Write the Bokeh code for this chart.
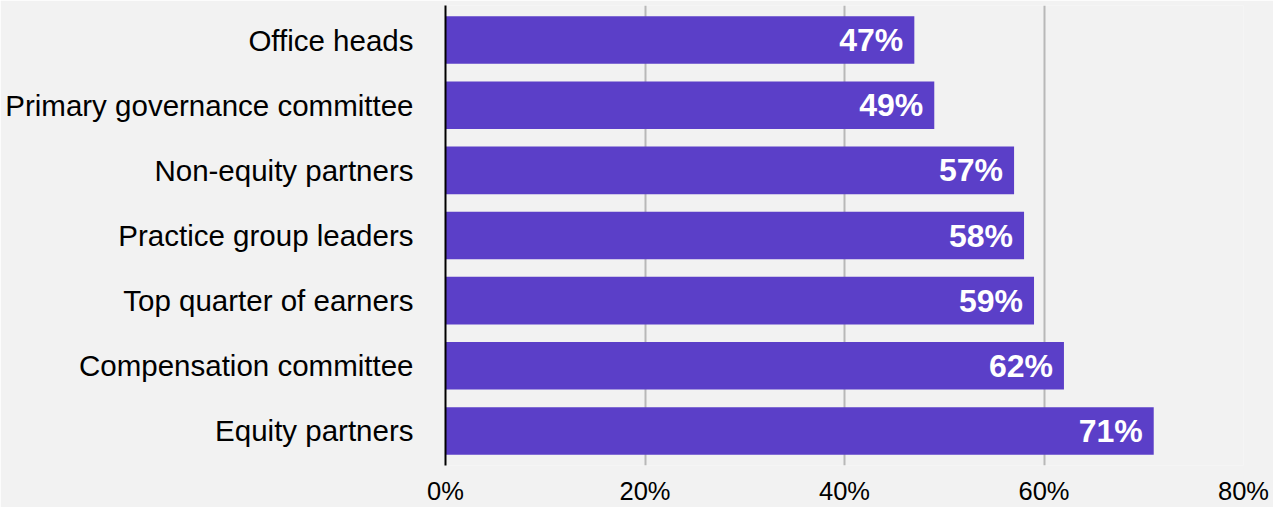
from bokeh.plotting import figure
from bokeh.models import ColumnDataSource, FactorRange, FixedTicker, PrintfTickFormatter
from bokeh.core.properties import value
from bokeh.embed import file_html
from bokeh.resources import INLINE

categories = ["Office heads", "Primary governance committee", "Non-equity partners",
              "Practice group leaders", "Top quarter of earners", "Compensation committee",
              "Equity partners"]
values = [47, 49, 57, 58, 59, 62, 71]
labels = [f"{v}%" for v in values]
x_ticks = [0, 20, 40, 60, 80]

src = ColumnDataSource(dict(cat=categories, val=values, lab=labels))

FONT = "Liberation Sans"
BG = "#f2f2f2"

p = figure(width=1273, height=507, output_backend="svg", toolbar_location=None,
           y_range=FactorRange(factors=list(reversed(categories)), range_padding=0.03,
                               range_padding_units="absolute"),
           x_range=(0, 80),
           min_border_left=445, min_border_right=30, min_border_top=5, min_border_bottom=40,
           background_fill_color=BG, border_fill_color=BG, outline_line_color=None)

p.hbar(y="cat", right="val", left=0, height=0.73, source=src, color="#5b3fc8", line_color=None)
p.text(x="val", y="cat", text="lab", source=src, x_offset=-11, text_align="right",
       text_baseline="middle", text_color="white", text_font=value(FONT),
       text_font_style="bold", text_font_size="32px")

p.xaxis.ticker = FixedTicker(ticks=x_ticks)
p.xaxis.formatter = PrintfTickFormatter(format="%d%%")
p.xaxis.axis_line_color = None
p.xaxis.major_tick_line_color = None
p.xaxis.major_tick_out = 0
p.xaxis.major_tick_in = 0
p.xaxis.minor_tick_line_color = None
p.xaxis.minor_tick_out = 0
p.xaxis.major_label_text_font = FONT
p.xaxis.major_label_text_font_size = "25.5px"
p.xaxis.major_label_text_color = "black"
p.xaxis.major_label_standoff = 11

p.yaxis.axis_line_color = "black"
p.yaxis.axis_line_width = 2
p.yaxis.major_tick_line_color = None
p.yaxis.minor_tick_line_color = None
p.yaxis.major_tick_out = 0
p.yaxis.major_tick_in = 0
p.yaxis.minor_tick_out = 0
p.yaxis.major_label_text_font = FONT
p.yaxis.major_label_text_font_size = "29.5px"
p.yaxis.major_label_text_color = "black"
p.yaxis.major_label_standoff = 32

p.ygrid.grid_line_color = None
p.xgrid.grid_line_color = "#b8b8b8"
p.xgrid.grid_line_width = 2

open("out.html", "w").write(file_html(p, INLINE))
